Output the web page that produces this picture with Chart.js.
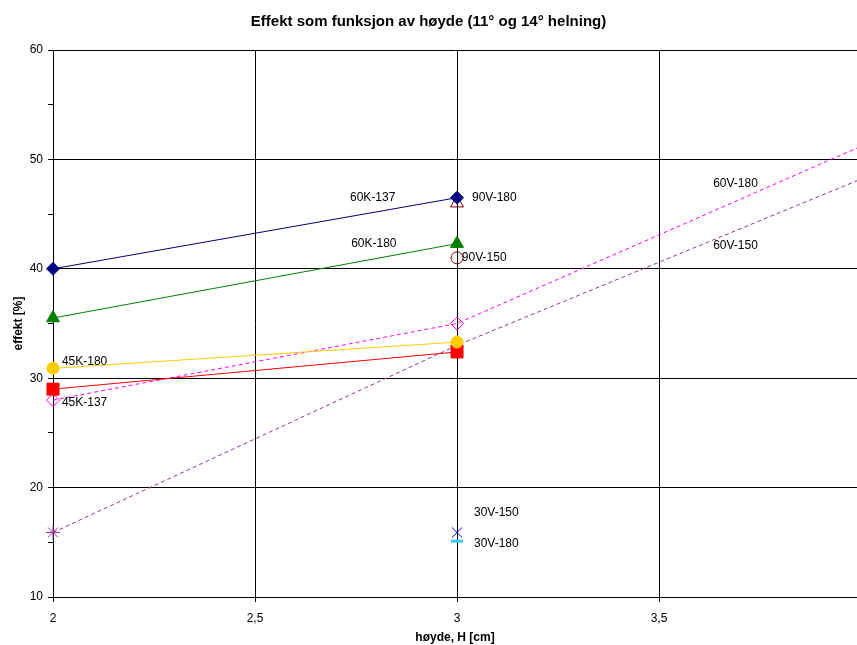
<!DOCTYPE html>
<html>
<head>
<meta charset="utf-8">
<title>Effekt som funksjon av høyde</title>
<script src="https://cdn.jsdelivr.net/npm/chart.js@4.4.0/dist/chart.umd.min.js"></script>
<style>
  html, body { margin: 0; padding: 0; background: #fff; }
  #wrap { width: 857px; height: 645px; position: relative; }
</style>
</head>
<body>
<div id="wrap"><canvas id="chart"></canvas></div>
<script>
'use strict'

/* ------------------------------ Data ------------------------------ */

const xTicks = [2, 2.5, 3, 3.5]
const yTicks = [10, 15, 20, 25, 30, 35, 40, 45, 50, 55, 60]

// solid series measured at H = 2 and 3
const xSolid = [2, 3]
const k60_137 = [40.0, 46.5]
const k60_180 = [35.5, 42.3]
const k45_180 = [30.9, 33.3]
const k45_137 = [29.0, 32.4]

// dashed series continue past the right edge
const xDashed = [2, 3, 4]
const v60_180 = [28.0, 35.0, 51.2]
const v60_150 = [15.9, 33.0, 48.2]

// single points at H = 3
const xSingle = [3]
const v90_180 = [46.0]
const v90_150 = [41.0]
const v30_150 = [15.9]
const v30_180 = [15.1]

// text labels next to the points
const labelTexts = ['60K-137', '90V-180', '60K-180', '90V-150', '45K-180', '45K-137', '60V-180', '60V-150', '30V-150', '30V-180']
const labelX = [2.735, 3.037, 2.738, 3.012, 2.022, 2.022, 3.634, 3.634, 3.042, 3.042]
const labelY = [46.5, 46.5, 42.3, 41.0, 31.5, 27.8, 47.75, 42.1, 17.7, 14.9]

/* ------------------------------ Helpers ------------------------------ */

function pairs (xs, ys) {
  return ys.map((y, i) => ({ x: xs[i], y: y }))
}

function series (xs, ys, opts) {
  return Object.assign({
    data: pairs(xs, ys),
    borderWidth: 1,
    pointBorderWidth: 1,
    pointRadius: 6,
    showLine: true,
    clip: false
  }, opts)
}

const FONT = "'Liberation Sans', Arial, sans-serif"

const datasets = [
  series(xSolid, k60_137, { borderColor: '#000080', backgroundColor: '#000080', pointStyle: 'rectRot', pointRadius: 6.5 }),
  series(xSolid, k60_180, { borderColor: '#008000', backgroundColor: '#008000', pointStyle: 'triangle', pointRadius: 7.5 }),
  series(xSolid, k45_180, { borderColor: '#FFCC00', backgroundColor: '#FFCC00', pointStyle: 'circle', pointRadius: 6 }),
  series(xSolid, k45_137, { borderColor: '#FF0000', backgroundColor: '#FF0000', pointStyle: 'rect', pointRadius: 8.5 }),
  series(xDashed, v60_180, { borderColor: '#FF00FF', backgroundColor: 'transparent', pointStyle: 'rectRot', pointRadius: [6.5, 6.5, 0], borderDash: [4, 3] }),
  series(xDashed, v60_150, { borderColor: '#993399', backgroundColor: 'transparent', pointStyle: 'star', pointRadius: [7, 7, 0], borderDash: [4, 3] }),
  series(xSingle, v90_180, { borderColor: '#800000', backgroundColor: 'transparent', pointStyle: 'triangle', pointRadius: 7.5, showLine: false }),
  series(xSingle, v90_150, { borderColor: '#800000', backgroundColor: 'transparent', pointStyle: 'circle', pointRadius: 6, showLine: false }),
  series(xSingle, v30_150, { borderColor: '#0000FF', backgroundColor: 'transparent', pointStyle: 'crossRot', pointRadius: 7, showLine: false }),
  series(xSingle, v30_180, { borderColor: '#33CCFF', backgroundColor: '#33CCFF', pointStyle: 'line', pointRadius: 6, pointBorderWidth: 3, showLine: false })
]

// draws the point labels in data coordinates
const pointLabels = {
  id: 'pointLabels',
  afterDatasetsDraw (chart) {
    const ctx = chart.ctx
    const xs = chart.scales.x
    const ys = chart.scales.y
    ctx.save()
    ctx.font = '12px ' + FONT
    ctx.fillStyle = '#000'
    ctx.textAlign = 'left'
    ctx.textBaseline = 'middle'
    labelTexts.forEach((t, i) => {
      ctx.fillText(t, xs.getPixelForValue(labelX[i]), ys.getPixelForValue(labelY[i]))
    })
    ctx.restore()
  }
}

/* ------------------------------ Chart ------------------------------ */

new Chart(document.getElementById('chart'), {
  type: 'scatter',
  data: { datasets: datasets },
  plugins: [pointLabels],
  options: {
    responsive: true,
    maintainAspectRatio: false,
    animation: false,
    layout: { autoPadding: false, padding: { left: 0, right: 0, top: 0, bottom: 0 } },
    plugins: {
      legend: { display: false },
      tooltip: { enabled: false },
      title: {
        display: true,
        text: 'Effekt som funksjon av høyde (11° og 14° helning)',
        color: '#000',
        font: { family: FONT, size: 15, weight: 'bold' },
        padding: { top: 13, bottom: 19 }
      }
    },
    scales: {
      x: {
        type: 'linear',
        min: 2,
        max: 3.99,
        afterBuildTicks: scale => { scale.ticks = xTicks.map(v => ({ value: v })) },
        afterFit: scale => {
          scale.height = 48
          scale.paddingRight = 0
          scale.paddingLeft = 0
        },
        border: { color: '#000', width: 1 },
        grid: { color: '#000', lineWidth: 1, tickLength: 5, tickColor: '#000' },
        ticks: {
          color: '#000',
          font: { family: FONT, size: 12 },
          padding: 9,
          maxRotation: 0,
          callback: v => String(v).replace('.', ',')
        },
        title: {
          display: true,
          text: 'høyde, H [cm]',
          color: '#000',
          font: { family: FONT, size: 12, weight: 'bold' },
          padding: { top: 0, bottom: 0 }
        }
      },
      y: {
        type: 'linear',
        min: 10,
        max: 60,
        afterBuildTicks: scale => { scale.ticks = yTicks.map(v => ({ value: v })) },
        afterFit: scale => { scale.width = 53 },
        border: { color: '#000', width: 1 },
        grid: {
          color: c => (c.tick && c.tick.value % 10 === 0) ? '#000' : 'rgba(0,0,0,0)',
          tickColor: '#000',
          lineWidth: 1,
          tickLength: 5
        },
        ticks: {
          color: '#000',
          font: { family: FONT, size: 12 },
          padding: 5,
          callback: v => v % 10 === 0 ? String(v) : ''
        },
        title: {
          display: true,
          text: 'effekt [%]',
          color: '#000',
          font: { family: FONT, size: 12, weight: 'bold' },
          padding: { top: 11, bottom: 0 }
        }
      }
    }
  }
})
</script>
</body>
</html>
